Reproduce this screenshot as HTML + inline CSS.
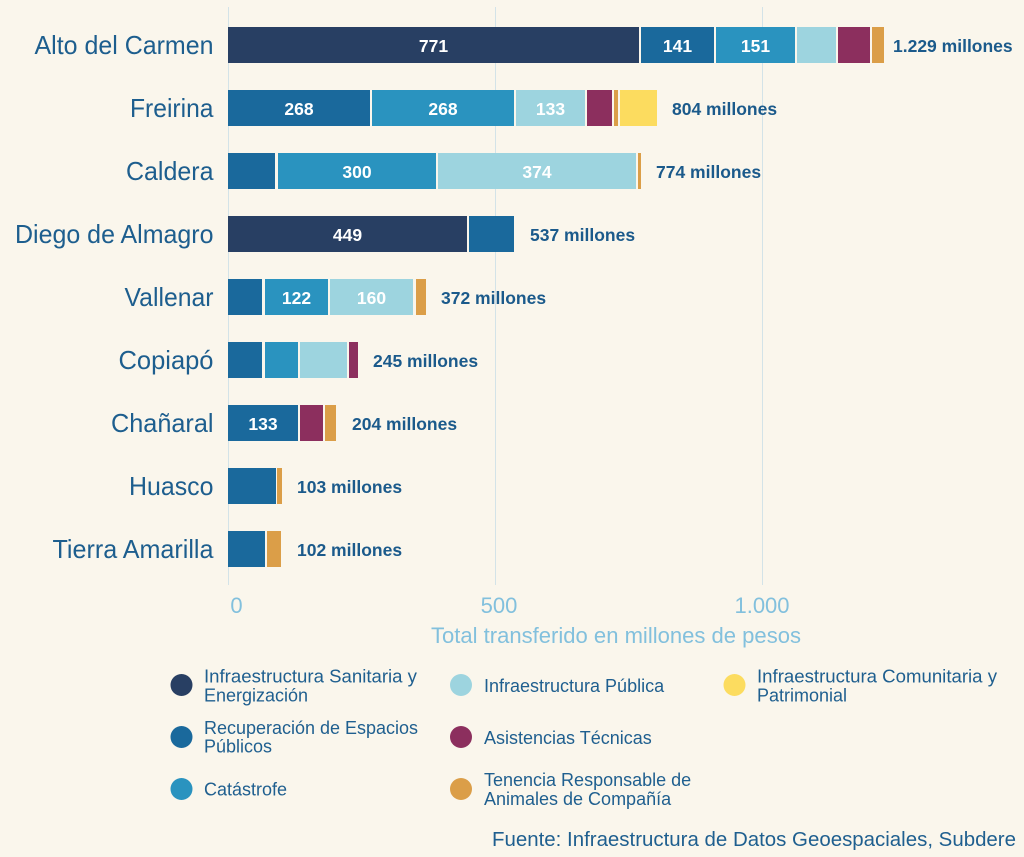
<!DOCTYPE html>
<html>
<head>
<meta charset="utf-8">
<style>
  html,body{margin:0;padding:0;background:#faf6ec;}
  svg{display:block;}
  text{font-family:"Liberation Sans",Arial,sans-serif;}
  .cat{font-size:26px;fill:#1d5e8e;text-anchor:end;}
  .val{font-size:17.5px;font-weight:bold;fill:#ffffff;text-anchor:middle;}
  .tot{font-size:17.5px;font-weight:bold;fill:#1b5a8b;}
  .tick{font-size:22px;fill:#82c0dd;text-anchor:middle;}
  .leg{font-size:18px;fill:#1f5f8f;}
</style>
</head>
<body>
<svg width="1024" height="857" viewBox="0 0 1024 857" xmlns="http://www.w3.org/2000/svg">
  <rect x="0" y="0" width="1024" height="857" fill="#faf6ec"/>

  <!-- gridlines -->
  <g stroke="#d3e3e8" stroke-width="1">
    <line x1="228.5" y1="7" x2="228.5" y2="585"/>
    <line x1="495.5" y1="7" x2="495.5" y2="585"/>
    <line x1="762.5" y1="7" x2="762.5" y2="585"/>
  </g>

  <!-- Row 1: Alto del Carmen (top 27) -->
  <g>
    <rect x="228" y="27" width="411" height="36" fill="#283f63"/>
    <rect x="641" y="27" width="73" height="36" fill="#1a699c"/>
    <rect x="716" y="27" width="79" height="36" fill="#2a93bf"/>
    <rect x="797" y="27" width="39" height="36" fill="#9dd4df"/>
    <rect x="838" y="27" width="32" height="36" fill="#8c2f5e"/>
    <rect x="872" y="27" width="12" height="36" fill="#db9e48"/>
  </g>
  <!-- Row 2: Freirina (top 90) -->
  <g>
    <rect x="228" y="90" width="142" height="36" fill="#1a699c"/>
    <rect x="372" y="90" width="142" height="36" fill="#2a93bf"/>
    <rect x="516" y="90" width="69" height="36" fill="#9dd4df"/>
    <rect x="587" y="90" width="25" height="36" fill="#8c2f5e"/>
    <rect x="614" y="90" width="4" height="36" fill="#db9e48"/>
    <rect x="620" y="90" width="37" height="36" fill="#fcdc5f"/>
  </g>
  <!-- Row 3: Caldera (top 153) -->
  <g>
    <rect x="228" y="153" width="47" height="36" fill="#1a699c"/>
    <rect x="278" y="153" width="158" height="36" fill="#2a93bf"/>
    <rect x="438" y="153" width="198" height="36" fill="#9dd4df"/>
    <rect x="638" y="153" width="3" height="36" fill="#db9e48"/>
  </g>
  <!-- Row 4: Diego de Almagro (top 216) -->
  <g>
    <rect x="228" y="216" width="239" height="36" fill="#283f63"/>
    <rect x="469" y="216" width="45" height="36" fill="#1a699c"/>
  </g>
  <!-- Row 5: Vallenar (top 279) -->
  <g>
    <rect x="228" y="279" width="34" height="36" fill="#1a699c"/>
    <rect x="265" y="279" width="63" height="36" fill="#2a93bf"/>
    <rect x="330" y="279" width="83" height="36" fill="#9dd4df"/>
    <rect x="416" y="279" width="10" height="36" fill="#db9e48"/>
  </g>
  <!-- Row 6: Copiapó (top 342) -->
  <g>
    <rect x="228" y="342" width="34" height="36" fill="#1a699c"/>
    <rect x="265" y="342" width="33" height="36" fill="#2a93bf"/>
    <rect x="300" y="342" width="47" height="36" fill="#9dd4df"/>
    <rect x="349" y="342" width="9" height="36" fill="#8c2f5e"/>
  </g>
  <!-- Row 7: Chañaral (top 405) -->
  <g>
    <rect x="228" y="405" width="70" height="36" fill="#1a699c"/>
    <rect x="300" y="405" width="23" height="36" fill="#8c2f5e"/>
    <rect x="325" y="405" width="11" height="36" fill="#db9e48"/>
  </g>
  <!-- Row 8: Huasco (top 468) -->
  <g>
    <rect x="228" y="468" width="48" height="36" fill="#1a699c"/>
    <rect x="277" y="468" width="5" height="36" fill="#db9e48"/>
  </g>
  <!-- Row 9: Tierra Amarilla (top 531) -->
  <g>
    <rect x="228" y="531" width="37" height="36" fill="#1a699c"/>
    <rect x="267" y="531" width="14" height="36" fill="#db9e48"/>
  </g>

  <!-- Category labels -->
  <text class="cat" x="213.5" y="54" textLength="179" lengthAdjust="spacingAndGlyphs">Alto del Carmen</text>
  <text class="cat" x="213.5" y="117" textLength="83.5" lengthAdjust="spacingAndGlyphs">Freirina</text>
  <text class="cat" x="213.5" y="180" textLength="87.5" lengthAdjust="spacingAndGlyphs">Caldera</text>
  <text class="cat" x="213.5" y="243" textLength="198.5" lengthAdjust="spacingAndGlyphs">Diego de Almagro</text>
  <text class="cat" x="213.5" y="306" textLength="89" lengthAdjust="spacingAndGlyphs">Vallenar</text>
  <text class="cat" x="213.5" y="369" textLength="95" lengthAdjust="spacingAndGlyphs">Copiapó</text>
  <text class="cat" x="213.5" y="432" textLength="102.5" lengthAdjust="spacingAndGlyphs">Chañaral</text>
  <text class="cat" x="213.5" y="495" textLength="84.5" lengthAdjust="spacingAndGlyphs">Huasco</text>
  <text class="cat" x="213.5" y="558" textLength="161" lengthAdjust="spacingAndGlyphs">Tierra Amarilla</text>

  <!-- Values inside bars -->
  <text class="val" x="433.5" y="52">771</text>
  <text class="val" x="677.5" y="52">141</text>
  <text class="val" x="755.5" y="52">151</text>
  <text class="val" x="299" y="115">268</text>
  <text class="val" x="443" y="115">268</text>
  <text class="val" x="550.5" y="115">133</text>
  <text class="val" x="357" y="178">300</text>
  <text class="val" x="537" y="178">374</text>
  <text class="val" x="347.5" y="241">449</text>
  <text class="val" x="296.5" y="304">122</text>
  <text class="val" x="371.5" y="304">160</text>
  <text class="val" x="263" y="430">133</text>

  <!-- Totals -->
  <text class="tot" x="893" y="52">1.229 millones</text>
  <text class="tot" x="672" y="115">804 millones</text>
  <text class="tot" x="656" y="178">774 millones</text>
  <text class="tot" x="530" y="241">537 millones</text>
  <text class="tot" x="441" y="304">372 millones</text>
  <text class="tot" x="373" y="367">245 millones</text>
  <text class="tot" x="352" y="430">204 millones</text>
  <text class="tot" x="297" y="493">103 millones</text>
  <text class="tot" x="297" y="556">102 millones</text>

  <!-- Axis ticks -->
  <text class="tick" x="236.5" y="613">0</text>
  <text class="tick" x="499" y="613">500</text>
  <text class="tick" x="762" y="613">1.000</text>
  <text x="431" y="643" font-size="22" fill="#82c0dd" textLength="370" lengthAdjust="spacingAndGlyphs">Total transferido en millones de pesos</text>

  <!-- Legend -->
  <circle cx="181.5" cy="685" r="11" fill="#283f63"/>
  <circle cx="181.5" cy="737" r="11" fill="#1a699c"/>
  <circle cx="181.5" cy="789" r="11" fill="#2a93bf"/>
  <circle cx="461" cy="685" r="11" fill="#9dd4df"/>
  <circle cx="461" cy="737" r="11" fill="#8c2f5e"/>
  <circle cx="461" cy="789" r="11" fill="#db9e48"/>
  <circle cx="734.5" cy="685" r="11" fill="#fcdc5f"/>

  <text class="leg" x="204" y="682.5" textLength="213" lengthAdjust="spacingAndGlyphs">Infraestructura Sanitaria y</text>
  <text class="leg" x="204" y="701.5">Energización</text>
  <text class="leg" x="204" y="734" textLength="214" lengthAdjust="spacingAndGlyphs">Recuperación de Espacios</text>
  <text class="leg" x="204" y="752.5">Públicos</text>
  <text class="leg" x="204" y="795.5">Catástrofe</text>

  <text class="leg" x="484" y="692">Infraestructura Pública</text>
  <text class="leg" x="484" y="744">Asistencias Técnicas</text>
  <text class="leg" x="484" y="786">Tenencia Responsable de</text>
  <text class="leg" x="484" y="805">Animales de Compañía</text>

  <text class="leg" x="757" y="682.5" textLength="240" lengthAdjust="spacingAndGlyphs">Infraestructura Comunitaria y</text>
  <text class="leg" x="757" y="701.5">Patrimonial</text>

  <!-- Source -->
  <text x="492" y="846" font-size="20" fill="#1f5f8f" textLength="524" lengthAdjust="spacingAndGlyphs">Fuente: Infraestructura de Datos Geoespaciales, Subdere</text>
</svg>
</body>
</html>
